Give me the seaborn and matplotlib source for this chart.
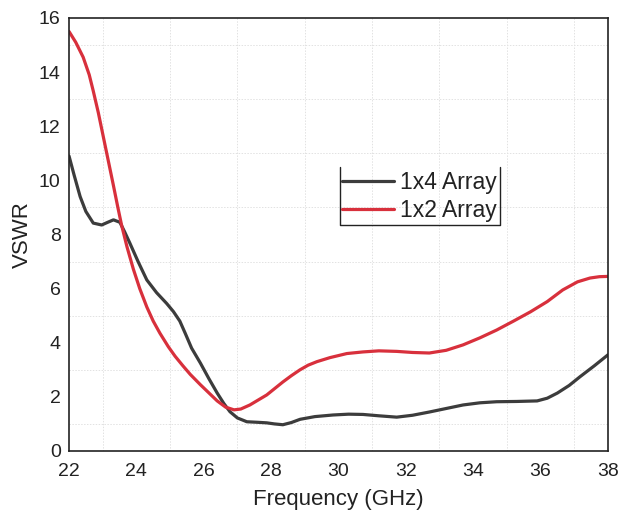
import matplotlib
matplotlib.use("Agg")
import matplotlib.pyplot as plt
import seaborn as sns
import pandas as pd
from matplotlib.ticker import MultipleLocator

# ---- data ----
freq_1x4 = [22.0, 22.15, 22.33, 22.5, 22.72, 22.97, 23.15, 23.32, 23.51, 23.65, 23.81,
            24.05, 24.31, 24.6, 24.9, 25.1, 25.29, 25.45, 25.64, 25.9, 26.15, 26.4,
            26.6, 26.78, 27.0, 27.28, 27.6, 27.87, 28.1, 28.35, 28.6, 28.86, 29.3,
            29.84, 30.3, 30.73, 31.2, 31.73, 32.2, 32.7, 33.2, 33.7, 34.2, 34.7,
            35.3, 35.9, 36.2, 36.5, 36.85, 37.17, 37.6, 38.0]
vswr_1x4 = [10.9, 10.2, 9.4, 8.85, 8.42, 8.35, 8.45, 8.54, 8.45, 8.1, 7.67,
            7.0, 6.32, 5.85, 5.45, 5.15, 4.8, 4.35, 3.8, 3.25, 2.68, 2.14,
            1.75, 1.45, 1.22, 1.08, 1.06, 1.04, 1.0, 0.97, 1.05, 1.17, 1.27,
            1.33, 1.36, 1.35, 1.3, 1.25, 1.32, 1.44, 1.57, 1.70, 1.78, 1.82,
            1.83, 1.85, 1.95, 2.14, 2.42, 2.74, 3.15, 3.55]

freq_1x2 = [22.0, 22.2, 22.42, 22.6, 22.72, 22.87, 23.02, 23.17, 23.32, 23.45, 23.56,
            23.72, 23.91, 24.1, 24.31, 24.5, 24.7, 24.95, 25.15, 25.38, 25.6, 25.9,
            26.15, 26.4, 26.65, 26.9, 27.1, 27.37, 27.6, 27.87, 28.1, 28.35, 28.6,
            28.86, 29.1, 29.36, 29.75, 30.25, 30.73, 31.2, 31.73, 32.2, 32.7, 33.2,
            33.7, 34.2, 34.7, 35.2, 35.7, 36.2, 36.66, 37.1, 37.47, 37.75, 38.0]
vswr_1x2 = [15.5, 15.1, 14.55, 13.9, 13.3, 12.5, 11.6, 10.7, 9.8, 9.0, 8.35,
            7.55, 6.72, 6.0, 5.32, 4.8, 4.35, 3.85, 3.5, 3.15, 2.83, 2.45,
            2.15, 1.85, 1.62, 1.52, 1.55, 1.7, 1.87, 2.07, 2.3, 2.55, 2.78,
            3.0, 3.17, 3.3, 3.45, 3.6, 3.66, 3.7, 3.68, 3.64, 3.62, 3.72,
            3.92, 4.18, 4.47, 4.8, 5.14, 5.52, 5.95, 6.25, 6.39, 6.44, 6.45]

series_names = ["1x4 Array", "1x2 Array"]
series_colors = ["#3c3c3c", "#d8303c"]

df = pd.concat([
    pd.DataFrame({"Frequency": freq_1x4, "VSWR": vswr_1x4, "Series": series_names[0]}),
    pd.DataFrame({"Frequency": freq_1x2, "VSWR": vswr_1x2, "Series": series_names[1]}),
])

sns.set_style("white")
plt.rcParams["font.family"] = ["Liberation Sans", "DejaVu Sans"]

fig = plt.figure(figsize=(6.19, 5.23), dpi=100)
ax = fig.add_axes([0.1115, 0.1377, 0.8705, 0.828])

sns.lineplot(data=df, x="Frequency", y="VSWR", hue="Series", hue_order=series_names,
             palette=series_colors, linewidth=2.3, ax=ax, legend=False, sort=True)
for ln in ax.lines:
    ln.set_solid_joinstyle("round")
    ln.set_solid_capstyle("round")

ax.set_xlim(22, 38)
ax.set_ylim(0, 16)
ax.xaxis.set_major_locator(MultipleLocator(2))
ax.xaxis.set_minor_locator(MultipleLocator(1))
ax.yaxis.set_major_locator(MultipleLocator(2))
ax.yaxis.set_minor_locator(MultipleLocator(1))

ax.grid(False)
ax.grid(which="minor", color="#e2e2e2", linestyle=(0, (1.5, 1.5)), linewidth=0.7)

for s in ax.spines.values():
    s.set_visible(True)
    s.set_color("#222222")
    s.set_linewidth(1.2)

ax.tick_params(axis="x", which="major", direction="out", length=5, width=1.2,
               labelsize=14, colors="#222222", pad=4)
ax.tick_params(axis="x", which="minor", direction="out", length=3, width=1.0, colors="#222222")
ax.tick_params(axis="y", which="major", direction="in", length=6, width=1.2,
               labelsize=14, colors="#222222", pad=6)
ax.tick_params(axis="y", which="minor", direction="in", length=3, width=1.0, colors="#222222")
ax.tick_params(top=False, right=False, which="both")

ax.set_xlabel("Frequency (GHz)", fontsize=16, color="#222222", labelpad=6)
ax.set_ylabel("VSWR", fontsize=16, color="#222222", labelpad=4)

# legend
handles = [plt.Line2D([], [], color=c, linewidth=2.3) for c in series_colors]
leg = ax.legend(handles, series_names, loc="center left", bbox_to_anchor=(0.506, 0.588),
                frameon=False, fontsize=16.5, handlelength=2.3, handletextpad=0.25,
                labelspacing=0.2, borderaxespad=0, borderpad=0)
for t in leg.get_texts():
    t.set_color("#222222")
# open-top box around legend
tr = ax.transAxes
ax.plot([0.503, 0.503, 0.80, 0.80], [0.656, 0.522, 0.522, 0.656], transform=tr,
        color="#222222", linewidth=1.0, clip_on=False)

fig.savefig("out.png", dpi=100)
